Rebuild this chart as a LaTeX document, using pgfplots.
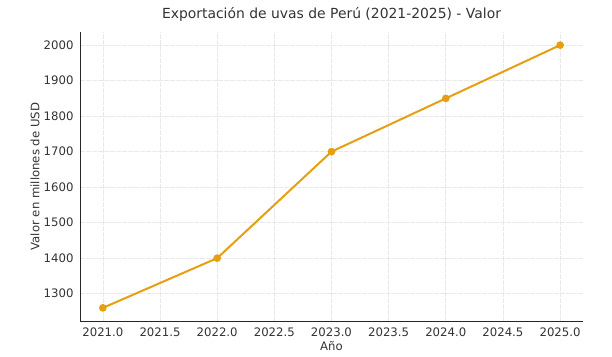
\documentclass[border=0pt]{standalone}
\usepackage{pgfplots}
\pgfplotsset{compat=1.18}
\usepackage{fontspec}
\setmainfont{DejaVu Sans}
\definecolor{linec}{RGB}{229,160,18}
\definecolor{txt}{RGB}{51,51,51}
\definecolor{gridc}{RGB}{233,233,233}
\begin{document}
\begin{tikzpicture}
\useasboundingbox (-80pt,-35pt) rectangle (532pt,321pt);
\begin{axis}[
  at={(0,0)}, anchor=south west,
  scale only axis, width=503pt, height=289pt,
  xmin=2020.8, xmax=2025.2, ymin=1223, ymax=2037,
  axis lines*=left,
  axis line style={draw=black!85, line width=0.9pt},
  xtick={2021,2021.5,...,2025},
  ytick={1300,1400,...,2000},
  major tick length=0pt,
  grid=major,
  major grid style={draw=gridc, line width=0.7pt, dash pattern=on 5pt off 1pt},
  /pgf/number format/assume math mode=true,
  /pgf/number format/1000 sep={},
  xticklabel style={/pgf/number format/fixed, /pgf/number format/fixed zerofill, /pgf/number format/precision=1, /pgf/number format/1000 sep={}, yshift=-3pt},
  ticklabel style={font=\fontsize{11.7}{13}\selectfont, text=txt},
  yticklabel style={xshift=-3pt},
  title={Exportación de uvas de Perú (2021-2025) - Valor},
  title style={font=\fontsize{13.9}{16}\selectfont, text=txt, at={(axis description cs:0.5,1)}, anchor=base, yshift=7pt},
  xlabel={Año},
  xlabel style={font=\fontsize{11.7}{13}\selectfont, text=txt, at={(axis description cs:0.5,0)}, anchor=base, yshift=-29pt},
  ylabel={Valor en millones de USD},
  ylabel style={font=\fontsize{11.7}{13}\selectfont, text=txt, at={(axis description cs:0,0.5)}, anchor=center, rotate=0, yshift=45pt},
  clip=false,
]
\addplot[color=linec, line width=2pt, mark=*, mark size=2.8pt, mark options={fill=linec, draw=linec}] coordinates {
  (2021,1260) (2022,1400) (2023,1700) (2024,1850) (2025,2000)
};
\end{axis}
\end{tikzpicture}
\end{document}
